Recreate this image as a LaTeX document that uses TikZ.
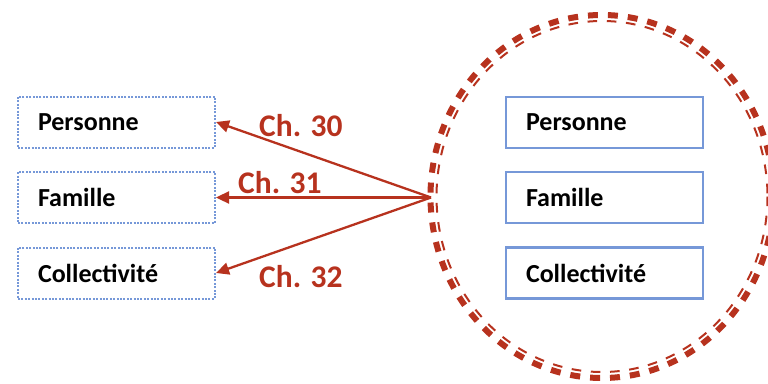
\documentclass[tikz,border=0pt]{standalone}
\usepackage{fontspec}
\setmainfont{Carlito}
\usetikzlibrary{arrows.meta}
\definecolor{arrred}{RGB}{183,50,30}
\definecolor{boxblue}{RGB}{118,152,216}
\tikzset{
  basebox/.style={rectangle, minimum width=197pt, minimum height=51pt, text width=157pt, inner xsep=20pt, inner ysep=0pt, align=left, font=\fontsize{26}{28}\selectfont\bfseries, text=black},
  lbox/.style={basebox, draw=boxblue, line width=2pt, dash pattern=on 2pt off 1.4pt},
  rbox/.style={basebox, draw=boxblue, line width=2.2pt},
  arr/.style={draw=arrred, line width=2.3pt, -{Triangle[length=13pt,width=12pt]}},
  chlab/.style={anchor=base west, inner sep=0pt, text=arrred, font=\fontsize{31.5}{32}\selectfont\bfseries},
}
\begin{document}
\begin{tikzpicture}[x=1pt,y=-1pt]
\useasboundingbox (0,0) rectangle (768,383);
\begin{scope}
\clip (0,0) rectangle (768,383);
\draw[arrred, line width=6pt, dash pattern=on 10pt off 9.95pt] (602,196.5) ellipse [x radius=171.5, y radius=181.5];
\draw[arrred, line width=2pt, dash pattern=on 9.65pt off 9.6pt] (602,196.5) ellipse [x radius=165.5, y radius=175.5];
\end{scope}
\node[lbox] (l1) at (116.5,122) {Personne};
\node[lbox] (l2) at (116.5,197.5) {Famille};
\node[lbox] (l3) at (116.5,273) {Collectivité};
\node[rbox] (r1) at (604.5,122.5) {Personne};
\node[rbox] (r2) at (604.5,197.5) {Famille};
\node[rbox] (r3) at (604.5,273) {Collectivité};
\coordinate (src) at (431,197.5);
\draw[arr] (src) -- (l1.east);
\draw[arr] (src) -- (l2.east);
\draw[arr] (src) -- (l3.east);
\node[chlab] (c30) at (259,136.5) {Ch. 30};
\node[chlab] (c31) at (238,193) {Ch. 31};
\node[chlab] (c32) at (259,287) {Ch. 32};
\end{tikzpicture}
\end{document}
